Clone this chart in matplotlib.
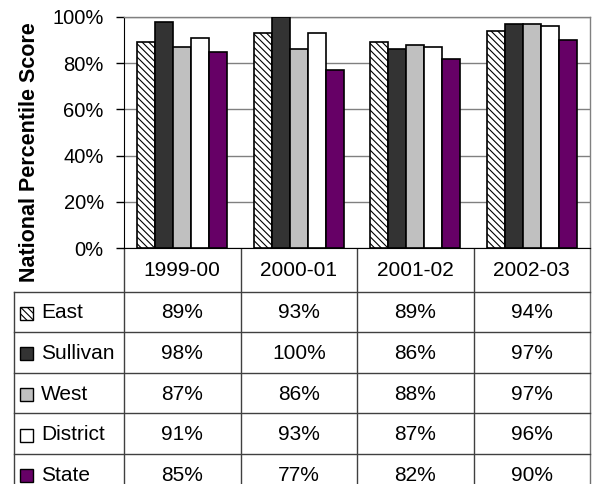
import matplotlib
matplotlib.use("Agg")
import matplotlib.pyplot as plt
from matplotlib.patches import Rectangle
from matplotlib.ticker import PercentFormatter

years = ["1999-00", "2000-01", "2001-02", "2002-03"]
schools = ["East", "Sullivan", "West", "District", "State"]
east = [89, 93, 89, 94]
sullivan = [98, 100, 86, 97]
west = [87, 86, 88, 97]
district = [91, 93, 87, 96]
state = [85, 77, 82, 90]
series = [east, sullivan, west, district, state]

face = ["white", "#333333", "#c0c0c0", "white", "#660066"]
hatch = ["\\\\\\\\\\", None, None, None, None]

plt.rcParams["font.family"] = ["Liberation Sans", "DejaVu Sans"]
plt.rcParams["hatch.linewidth"] = 0.8

W, H = 602, 484
fig = plt.figure(figsize=(W / 100, H / 100), dpi=100)

# plot area in pixel terms
left_px, right_px, top_px, base_px = 124, 590, 17, 248
ax = fig.add_axes([left_px / W, (H - base_px) / H,
                   (right_px - left_px) / W, (base_px - top_px) / H])

n = len(schools)
bw = 0.155
for k, vals in enumerate(series):
    xs = [i + (k - (n - 1) / 2) * bw for i in range(len(years))]
    ax.bar(xs, vals, width=bw, color=face[k], edgecolor="black",
           linewidth=1.2, hatch=hatch[k], zorder=3)

ax.set_xlim(-0.5, len(years) - 0.5)
ax.set_ylim(0, 100)
ax.set_yticks([0, 20, 40, 60, 80, 100])
ax.yaxis.set_major_formatter(PercentFormatter(decimals=0))
ax.set_xticks([])
ax.grid(axis="y", color="#808080", linewidth=1.0, zorder=0)
ax.tick_params(axis="y", length=6, width=1, pad=8.5, labelsize=14.5,
               color="black")
for s in ("top", "right"):
    ax.spines[s].set_color("#808080")
    ax.spines[s].set_linewidth(1.0)
ax.spines["left"].set_color("black")
ax.spines["bottom"].set_color("black")

fig.text(30 / W, 1 - 152 / H, "National Percentile Score", rotation=90,
         ha="center", va="center", fontsize=15.5, fontweight="bold")

# data table beneath the bars, drawn in figure pixels
tax = fig.add_axes([0, 0, 1, 1], zorder=-1)
tax.set_xlim(0, W)
tax.set_ylim(H, 0)
tax.axis("off")
tax.patch.set_alpha(0)

fig.canvas.draw()
col_edges = []
for i in range(len(years) + 1):
    xd, _ = ax.transData.transform((i - 0.5, 0))
    col_edges.append(xd)
col_centers = [(col_edges[i] + col_edges[i + 1]) / 2 for i in range(len(years))]

line_c = "#404040"
header_bottom = 291.5
row_h = 40.6
table_left = 14

for xe in col_edges[:-1]:
    tax.plot([xe, xe], [base_px, H], color=line_c, lw=1.0)
tax.plot([col_edges[-1]] * 2, [base_px, H], color="#707070", lw=1.0)
tax.plot([table_left, table_left], [header_bottom, H], color=line_c, lw=1.0)

for j in range(len(schools)):
    yl = header_bottom + j * row_h
    tax.plot([table_left, col_edges[-1]], [yl, yl], color=line_c, lw=1.0)

tfs = 15
for i, yr in enumerate(years):
    tax.text(col_centers[i], (base_px + header_bottom) / 2 + 1, yr,
             ha="center", va="center", fontsize=tfs)

for k, name in enumerate(schools):
    yc = header_bottom + (k + 0.5) * row_h + 1
    tax.add_patch(Rectangle((20, yc - 6), 13, 13, facecolor=face[k],
                            edgecolor="black", lw=1.0, hatch=hatch[k]))
    tax.text(41, yc, name, ha="left", va="center", fontsize=tfs)
    for i in range(len(years)):
        tax.text(col_centers[i], yc, f"{series[k][i]}%",
                 ha="center", va="center", fontsize=tfs)

fig.savefig("out.png", dpi=100)
